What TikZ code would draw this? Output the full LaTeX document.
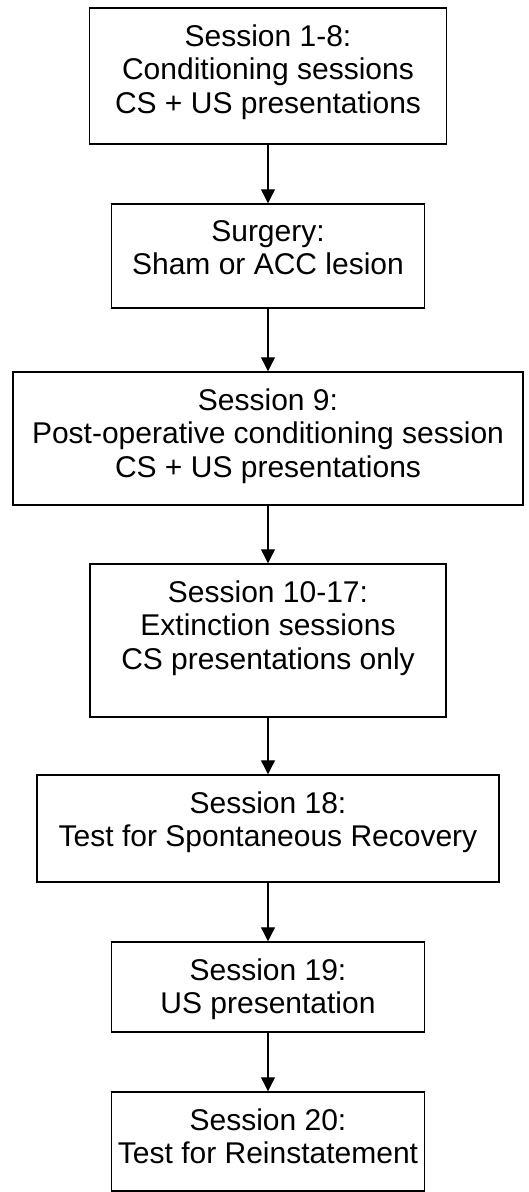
\documentclass[tikz,border=0pt]{standalone}
\usepackage{fontspec}
\setmainfont{Liberation Sans}
\usetikzlibrary{arrows.meta}
\begin{document}
\begin{tikzpicture}[x=1pt,y=-1pt,
  stepbox/.style={draw, line width=1.5pt, inner sep=0pt},
  boxtext/.style={font=\fontsize{30}{33.5}\selectfont, align=center, inner sep=0pt, anchor=north, yshift=-17pt},
  flow/.style={-{Triangle[length=14pt,width=14pt]}, line width=1.3pt}]
\useasboundingbox (0,0) rectangle (529,1192);
\node[stepbox, minimum width=357pt, minimum height=136pt,
  label={[boxtext]north:{Session 1-8:\\Conditioning sessions\\CS + US presentations}}] (b1) at (268,76) {};
\node[stepbox, minimum width=313pt, minimum height=104pt,
  label={[boxtext]north:{Surgery:\\Sham or ACC lesion}}] (b2) at (268,256) {};
\node[stepbox, minimum width=510pt, minimum height=133pt,
  label={[boxtext]north:{Session 9:\\Post-operative conditioning session\\CS + US presentations}}] (b3) at (268,438.5) {};
\node[stepbox, minimum width=356pt, minimum height=153pt,
  label={[boxtext]north:{Session 10-17:\\Extinction sessions\\CS presentations only}}] (b4) at (268,640.5) {};
\node[stepbox, minimum width=462pt, minimum height=107pt,
  label={[boxtext]north:{Session 18:\\Test for Spontaneous Recovery}}] (b5) at (268,828.5) {};
\node[stepbox, minimum width=313pt, minimum height=90pt,
  label={[boxtext]north:{Session 19:\\US presentation}}] (b6) at (268,987) {};
\node[stepbox, minimum width=313pt, minimum height=99pt,
  label={[boxtext]north:{Session 20:\\Test for Reinstatement}}] (b7) at (268,1141.5) {};
\draw[flow] (b1) -- (b2);
\draw[flow] (b2) -- (b3);
\draw[flow] (b3) -- (b4);
\draw[flow] (b4) -- (b5);
\draw[flow] (b5) -- (b6);
\draw[flow] (b6) -- (b7);
\end{tikzpicture}
\end{document}
